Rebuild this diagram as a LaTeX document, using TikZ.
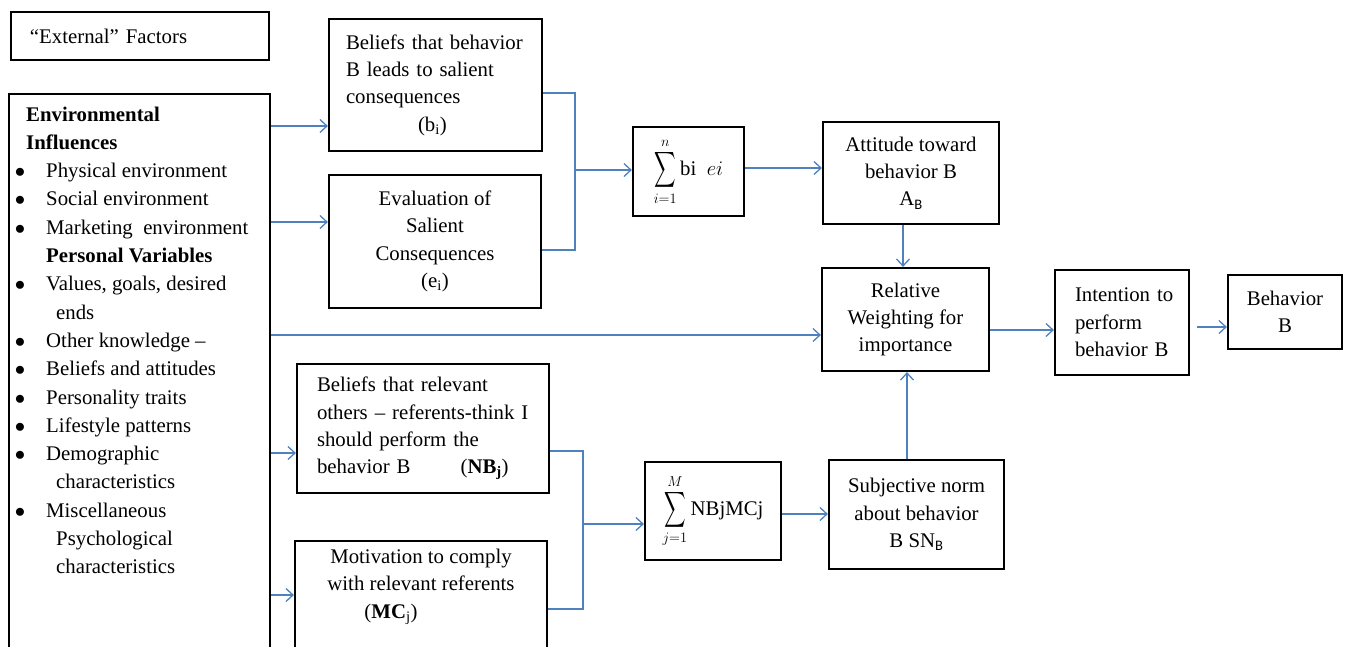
\documentclass[tikz,border=0pt]{standalone}
\usepackage{amsmath}
\usepackage{fontspec}
\setmainfont{Liberation Serif}
\newfontfamily\calib{Carlito}
\usetikzlibrary{arrows.meta}
\definecolor{arrowblue}{RGB}{79,129,189}
\newcommand\fs{\fontsize{20.8pt}{27.3pt}\selectfont}
\newcommand\lsub[1]{\textsubscript{#1}}
\newcommand\bigsum{\mathop{\vcenter{\hbox{\scalebox{0.72}[1.2]{$\displaystyle\sum$}}}}\limits}
\begin{document}
\begin{tikzpicture}[x=1pt,y=1pt,
  box/.style={draw=black, line width=2.2pt, font=\fs, inner sep=0pt, align=center},
  txt/.style={font=\fs, inner sep=0pt},
  conn/.style={draw=arrowblue, line width=1.3pt},
  arr/.style={conn, -{Straight Barb[length=7pt,width=13pt,line width=1.3pt]}}]
\useasboundingbox (0,0) rectangle (1345,-646);
\clip (0,0) rectangle (1345,-646);

% External factors
\node[box, minimum width=258, minimum height=48, inner xsep=19pt, text width=220pt, align=left] (ext) at (140,-36) {``External'' Factors};

% Environment box
\node[box, minimum width=261, minimum height=580, anchor=north west] (env) at (8,-93) {};
\foreach \k in {2,3,4,6,8,9,10,11,12,14}
  \node[txt, anchor=base] (bu\k) at (20,{-(121+28.3*\k)}) {$\bullet$};
\foreach \k/\x/\t in {0/26/{\textbf{Environmental}},1/26/{\textbf{Influences}},
  2/46/{Physical environment},3/46/{Social environment},4/46/{Marketing\ \ environment},
  5/46/{\textbf{Personal Variables}},6/46/{Values, goals, desired},7/56/{ends},
  8/46/{Other knowledge --},9/46/{Beliefs and attitudes},10/46/{Personality traits},
  11/46/{Lifestyle patterns},12/46/{Demographic},13/56/{characteristics},
  14/46/{Miscellaneous},15/56/{Psychological},16/56/{characteristics}}
  \node[txt, anchor=base west] (e\k) at (\x,{-(121+28.3*\k)}) {\t};

% Belief boxes
\node[box, minimum width=213, minimum height=132, inner xsep=17pt, text width=179pt, align=left] (bel) at (435.5,-85)
  {Beliefs that behavior\\ B leads to salient\\ consequences\\ \hspace*{72pt}(b\lsub{i})};
\node[box, minimum width=212, minimum height=133] (eva) at (435,-241.5)
  {Evaluation of\\ Salient\\ Consequences\\ (e\lsub{i})};

\node[box, minimum width=111, minimum height=89] (sum1) at (688.5,-171.5)
  {$\bigsum_{i=1}^{n}$\,bi\ \ $ei$};
\node[box, minimum width=176, minimum height=102] (att) at (911,-173)
  {Attitude toward\\ behavior B\\ A\lsub{\calib B}};
\node[box, minimum width=167, minimum height=103] (rel) at (905.5,-319.5)
  {Relative\\ Weighting for\\ importance};
\node[box, minimum width=134, minimum height=105, inner xsep=14pt, text width=106pt, align=left] (int) at (1122,-322.5)
  {\hspace*{6pt}Intention to\\ \hspace*{6pt}perform\\ \hspace*{6pt}behavior B};
\node[box, minimum width=114, minimum height=74] (beh) at (1285,-312)
  {Behavior\\ B};

\node[box, minimum width=252, minimum height=129, inner xsep=20pt, text width=212pt, align=left] (nb) at (423,-428.5)
  {Beliefs that relevant\\ others -- referents-think I\\ should perform the\\ behavior B\hspace*{50pt}(\textbf{NB\lsub{j}})};
\node[box, minimum width=252, minimum height=130, anchor=north] (mc) at (421,-540) {};
\node[txt, align=center, anchor=north] (mct) at (421,-549)
  {Motivation to comply\\ with relevant referents\\ \hspace*{-60pt}(\textbf{MC}\lsub{j})};

\node[box, minimum width=136, minimum height=98] (sum2) at (713,-511)
  {$\bigsum_{j=1}^{M}$\,NBjMCj};
\node[box, minimum width=175, minimum height=109] (sub) at (916.5,-514.5)
  {Subjective norm\\ about behavior\\ B SN\lsub{\calib B}};

% Connectors
\coordinate (j1) at (575,-170);
\coordinate (j2) at (583,-524);
\draw[arr] (env.east |- 0,-126) -- (bel.west |- 0,-126);
\draw[arr] (env.east |- 0,-222) -- (eva.west |- 0,-222);
\draw[arr] (env.east |- 0,-335) -- (rel.west |- 0,-335);
\draw[arr] (env.east |- 0,-453) -- (nb.west |- 0,-453);
\draw[arr] (env.east |- 0,-595) -- (mc.west |- 0,-595);
\draw[conn] (bel.east |- 0,-93) -| (j1) |- (eva.east |- 0,-250);
\draw[arr] (j1) -- (sum1.west |- j1);
\draw[arr] (sum1.east |- 0,-168) -- (att.west |- 0,-168);
\draw[arr] (att.south -| 903,0) -- (rel.north -| 903,0);
\draw[arr] (sub.north -| 907,0) -- (rel.south -| 907,0);
\draw[arr] (rel.east |- 0,-330) -- (int.west |- 0,-330);
\draw[arr] ([xshift=7pt]int.east |- 0,-327) -- (beh.west |- 0,-327);
\draw[conn] (nb.east |- 0,-451) -| (j2) |- (mc.east |- 0,-609);
\draw[arr] (j2) -- (sum2.west |- j2);
\draw[arr] (sum2.east |- 0,-514) -- (sub.west |- 0,-514);
\end{tikzpicture}
\end{document}
